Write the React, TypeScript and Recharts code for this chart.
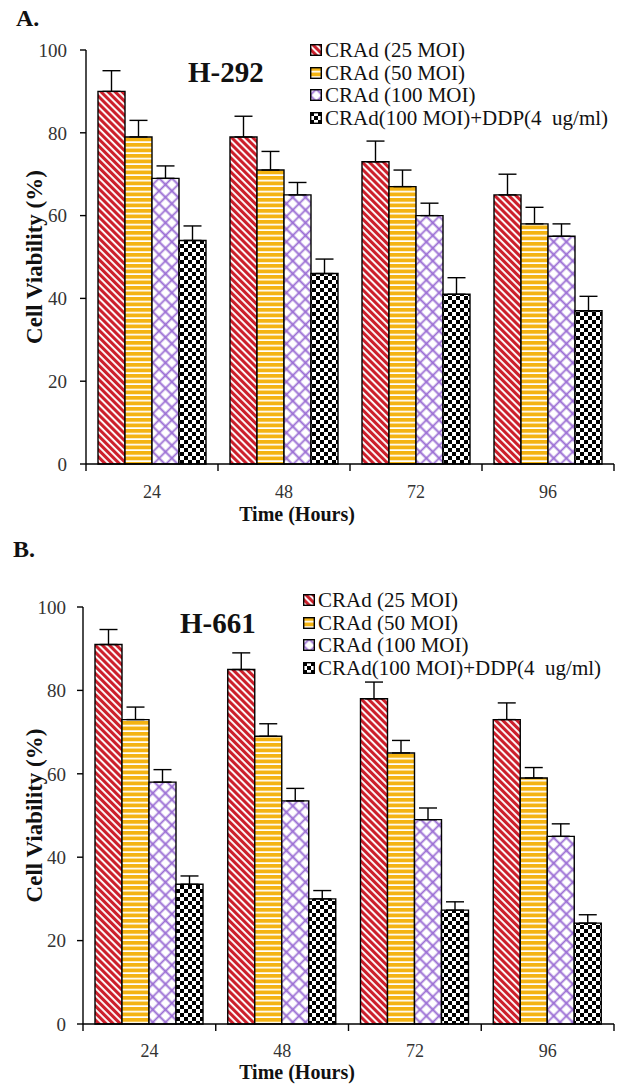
import { BarChart, Bar, XAxis, YAxis, ErrorBar, Legend, Label } from 'recharts';

// time points (hours)
const hours = ['24', '48', '72', '96'];
const seriesNames = ['CRAd (25 MOI)', 'CRAd (50 MOI)', 'CRAd (100 MOI)', 'CRAd(100 MOI)+DDP(4  ug/ml)'];
const yTicks = [0, 20, 40, 60, 80, 100];

// H-292 cell viability (%)
const h292Moi25 = [90, 79, 73, 65];
const h292Moi50 = [79, 71, 67, 58];
const h292Moi100 = [69, 65, 60, 55];
const h292Ddp = [54, 46, 41, 37];
const h292Moi25Err = [5, 5, 5, 5];
const h292Moi50Err = [4, 4.5, 4, 4];
const h292Moi100Err = [3, 3, 3, 3];
const h292DdpErr = [3.5, 3.5, 4, 3.5];

// H-661 cell viability (%)
const h661Moi25 = [91, 85, 78, 73];
const h661Moi50 = [73, 69, 65, 59];
const h661Moi100 = [58, 53.5, 49, 45];
const h661Ddp = [33.5, 30, 27.3, 24.2];
const h661Moi25Err = [3.6, 4, 4, 4];
const h661Moi50Err = [3, 3, 3, 2.5];
const h661Moi100Err = [3, 3, 2.8, 3];
const h661DdpErr = [2, 2, 2, 2];

const FONT = '"Liberation Serif", "Times New Roman", serif';
const W = 622;
const H = 540;

const buildRows = (v: number[][], e: number[][]) =>
  hours.map((h, i) => ({
    hour: h,
    v0: v[0][i], v1: v[1][i], v2: v[2][i], v3: v[3][i],
    e0: [0, e[0][i]], e1: [0, e[1][i]], e2: [0, e[2][i]], e3: [0, e[3][i]],
  }));

const dataA = buildRows([h292Moi25, h292Moi50, h292Moi100, h292Ddp], [h292Moi25Err, h292Moi50Err, h292Moi100Err, h292DdpErr]);
const dataB = buildRows([h661Moi25, h661Moi50, h661Moi100, h661Ddp], [h661Moi25Err, h661Moi50Err, h661Moi100Err, h661DdpErr]);

const Patterns = ({ p }: { p: string }) => (
  <defs>
    <pattern id={`${p}-red`} width="5" height="5" patternUnits="userSpaceOnUse" patternTransform="rotate(-45)">
      <rect width="5" height="5" fill="#fff" />
      <rect width="3.1" height="5" fill="#cc1f2b" />
    </pattern>
    <pattern id={`${p}-yel`} width="6" height="5.5" patternUnits="userSpaceOnUse">
      <rect width="6" height="5.5" fill="#fff" />
      <rect width="6" height="3.8" fill="#f4b312" />
    </pattern>
    <pattern id={`${p}-pur`} width="9" height="9" patternUnits="userSpaceOnUse" patternTransform="rotate(45)">
      <rect width="9" height="9" fill="#fff" />
      <path d="M0 4.5H9M4.5 0V9" stroke="#9a6dd4" strokeWidth="1.8" />
    </pattern>
    <pattern id={`${p}-blk`} width="8" height="8" patternUnits="userSpaceOnUse">
      <rect width="8" height="8" fill="#fff" />
      <rect width="4" height="4" fill="#000" />
      <rect x="4" y="4" width="4" height="4" fill="#000" />
    </pattern>
  </defs>
);

const fills = ['red', 'yel', 'pur', 'blk'];

const makeXTick = (band: number, dy: number) => (props: any) => {
  const { x, y, payload, index } = props;
  return (
    <g>
      <line x1={x - band / 2} y1={y} x2={x - band / 2} y2={y + 7} stroke="#000" strokeWidth={1.4} />
      {index === hours.length - 1 && (
        <line x1={x + band / 2} y1={y} x2={x + band / 2} y2={y + 7} stroke="#000" strokeWidth={1.4} />
      )}
      <text x={x} y={y + dy} textAnchor="middle" fontSize={18} fontFamily={FONT} fill="#333">
        {payload.value}
      </text>
    </g>
  );
};

const makeLegend = (p: string) => () => (
  <div style={{ fontFamily: FONT, fontSize: 21, color: '#111', lineHeight: '22.5px' }}>
    {seriesNames.map((name, i) => (
      <div key={name} style={{ display: 'flex', alignItems: 'center', whiteSpace: 'pre' }}>
        <svg width={12} height={12} style={{ marginRight: 3 }}>
          <rect x={0.7} y={0.7} width={10.6} height={10.6} fill={`url(#${p}-${fills[i]})`} stroke="#000" strokeWidth={1.4} />
        </svg>
        {name}
      </div>
    ))}
  </div>
);

interface PanelProps {
  p: string;
  data: any[];
  top: number;
  left: number;
  bottom: number;
  tickMargin: number;
  tickDy: number;
  labelDy: number;
  legendPos: { left: number; top: number };
}

const Panel = ({ p, data, top, left, bottom, tickMargin, tickDy, labelDy, legendPos }: PanelProps) => {
  const band = (W - left - 8) / hours.length;
  return (
    <BarChart
      width={W}
      height={H}
      data={data}
      margin={{ top, right: 8, left: 0, bottom: 0 }}
      barCategoryGap={12}
      barGap={0}
    >
      <Patterns p={p} />
      <XAxis
        dataKey="hour"
        height={bottom}
        axisLine={{ stroke: '#000', strokeWidth: 1.4 }}
        tickLine={false}
        tickSize={0}
        tickMargin={0}
        tick={makeXTick(band, tickDy)}
        interval={0}
      >
        <Label
          content={(lp: any) => {
            const vb = lp.viewBox || {};
            return (
              <text x={297} y={(vb.y ?? 0) + labelDy} textAnchor="middle" fontSize={20} fontWeight="bold" fontFamily={FONT} fill="#111">
                Time (Hours)
              </text>
            );
          }}
        />
      </XAxis>
      <YAxis
        width={left}
        domain={[0, 100]}
        ticks={yTicks}
        interval={0}
        axisLine={{ stroke: '#000', strokeWidth: 1.4 }}
        tickLine={{ stroke: '#000', strokeWidth: 1.4 }}
        tickSize={6}
        tickMargin={tickMargin}
        tick={{ fontSize: 19, fontFamily: FONT, fill: '#333' }}
      >
        <Label
          content={(lp: any) => {
            const vb = lp.viewBox || {};
            const cy = (vb.y ?? 0) + (vb.height ?? 0) / 2;
            return (
              <text x={42} y={cy} transform={`rotate(-90 42 ${cy})`} textAnchor="middle" fontSize={23} fontWeight="bold" fontFamily={FONT} fill="#111">
                Cell Viability (%)
              </text>
            );
          }}
        />
      </YAxis>
      <Legend
        layout="vertical"
        align="center"
        verticalAlign="middle"
        content={makeLegend(p)}
        wrapperStyle={{ position: 'absolute', left: legendPos.left, top: legendPos.top, width: 320 }}
      />
      {fills.map((f, i) => (
        <Bar
          key={f}
          dataKey={`v${i}`}
          name={seriesNames[i]}
          fill={`url(#${p}-${f})`}
          stroke="#000"
          strokeWidth={1.4}
          isAnimationActive={false}
        >
          <ErrorBar dataKey={`e${i}`} width={9} stroke="#000" strokeWidth={1.4} direction="y" />
        </Bar>
      ))}
    </BarChart>
  );
};

const heading = (text: string, left: number, top: number, size: number) => (
  <div
    style={{
      position: 'absolute', left, top, fontFamily: FONT, fontWeight: 'bold',
      fontSize: size, lineHeight: 1, color: '#111', whiteSpace: 'nowrap',
    }}
  >
    {text}
  </div>
);

export default function App() {
  return (
    <div style={{ position: 'absolute', left: 0, top: 0, width: W, height: 1085, background: '#fff' }}>
      <div style={{ position: 'absolute', left: 0, top: 0 }}>
        <Panel p="pa" data={dataA} top={50} left={86} bottom={76} tickMargin={13} tickDy={34} labelDy={57} legendPos={{ left: 310, top: 39 }} />
      </div>
      <div style={{ position: 'absolute', left: 0, top: 545 }}>
        <Panel p="pb" data={dataB} top={62} left={83} bottom={61} tickMargin={11} tickDy={33} labelDy={55} legendPos={{ left: 303, top: 44 }} />
      </div>
      {heading('A.', 16, 6, 24)}
      {heading('H-292', 188, 58, 29)}
      {heading('B.', 13, 537, 24)}
      {heading('H-661', 180, 609, 29)}
    </div>
  );
}
